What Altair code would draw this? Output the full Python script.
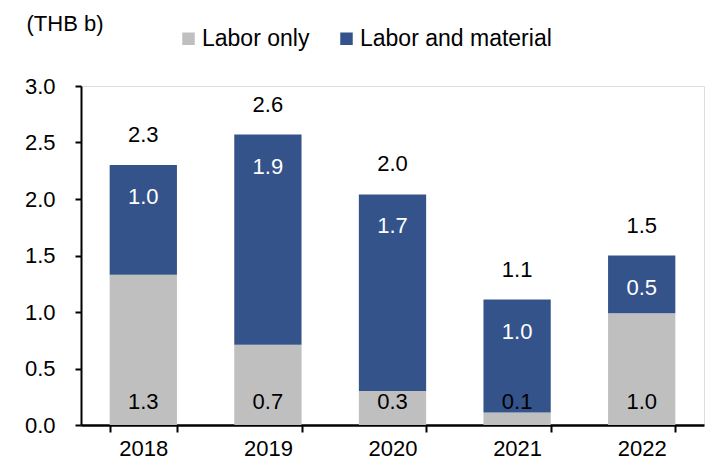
import altair as alt
import pandas as pd

years = ["2018", "2019", "2020", "2021", "2022"]
labor_only = [1.33, 0.71, 0.30, 0.11, 0.99]
labor_material = [0.97, 1.86, 1.74, 1.00, 0.51]
series_names = ["Labor only", "Labor and material"]
colors = ["#BFBFBF", "#34538A"]
y_ticks = [0, 0.5, 1.0, 1.5, 2.0, 2.5, 3.0]

rows = []
for i, yr in enumerate(years):
    a = labor_only[i]
    b = labor_material[i]
    rows.append({"year": yr, "series": series_names[0], "value": a, "start": 0.0, "end": a})
    rows.append({"year": yr, "series": series_names[1], "value": b, "start": a, "end": a + b})
df = pd.DataFrame(rows)
tot = pd.DataFrame({"year": years, "total": [a + b for a, b in zip(labor_only, labor_material)]})

FONT = "Liberation Sans"
FS = 22

x_enc = alt.X(
    "year:N",
    title=None,
    scale=alt.Scale(paddingInner=0.46, paddingOuter=0.23),
    axis=alt.Axis(
        labelAngle=0, labelFontSize=FS, labelFont=FONT, labelColor="black",
        labelPadding=6, tickSize=7, tickWidth=2, tickColor="black",
        domainColor="black", domainWidth=2.5, tickBand="extent",
    ),
)
y_axis = alt.Axis(
    values=y_ticks, format=".1f", labelFontSize=FS, labelFont=FONT, labelColor="black",
    labelPadding=20, tickSize=6, tickWidth=2, tickColor="black",
    domainColor="black", domainWidth=2, grid=False,
    title="(THB b)", titleAngle=0, titleAlign="left", titleBaseline="middle",
    titleX=-55, titleY=-63, titleFont=FONT, titleFontSize=FS, titleFontWeight="normal",
    titleColor="black",
)
y_scale = alt.Scale(domain=[0, 3], nice=False)

bars = alt.Chart(df).mark_bar().encode(
    x=x_enc,
    y=alt.Y("start:Q", scale=y_scale, axis=y_axis, title="(THB b)"),
    y2="end:Q",
    color=alt.Color(
        "series:N",
        scale=alt.Scale(domain=series_names, range=colors),
        legend=alt.Legend(
            title=None, orient="none", direction="horizontal",
            legendX=96, legendY=-59, symbolType="square", symbolSize=156,
            symbolStrokeWidth=0, labelFontSize=23, labelFont=FONT, labelColor="black",
            labelOffset=2, columnPadding=25, labelLimit=400,
        ),
    ),
)

gray_labels = alt.Chart(df).transform_filter(
    alt.datum.series == "Labor only"
).mark_text(fontSize=FS, font=FONT, color="black", baseline="middle").encode(
    x=x_enc,
    y=alt.datum(0.2),
    text=alt.Text("value:Q", format=".1f"),
)

blue_labels = alt.Chart(df).transform_filter(
    alt.datum.series == "Labor and material"
).mark_text(fontSize=FS, font=FONT, color="white", baseline="middle", dy=32).encode(
    x=x_enc,
    y=alt.Y("end:Q", scale=y_scale, axis=y_axis, title="(THB b)"),
    text=alt.Text("value:Q", format=".1f"),
)

total_labels = alt.Chart(tot).mark_text(
    fontSize=FS, font=FONT, color="black", baseline="middle", dy=-30
).encode(
    x=x_enc,
    y=alt.Y("total:Q", scale=y_scale, axis=y_axis, title="(THB b)"),
    text=alt.Text("total:Q", format=".1f"),
)

chart = alt.layer(bars, gray_labels, blue_labels, total_labels).properties(
    width=623,
    height=339,
    autosize=alt.AutoSizeParams(type="none"),
    padding={"left": 73, "top": 78, "right": 11, "bottom": 35},
).configure_view(stroke=None).configure(font=FONT)

chart.save("out.html", embed_options={"renderer": "svg", "actions": False})
